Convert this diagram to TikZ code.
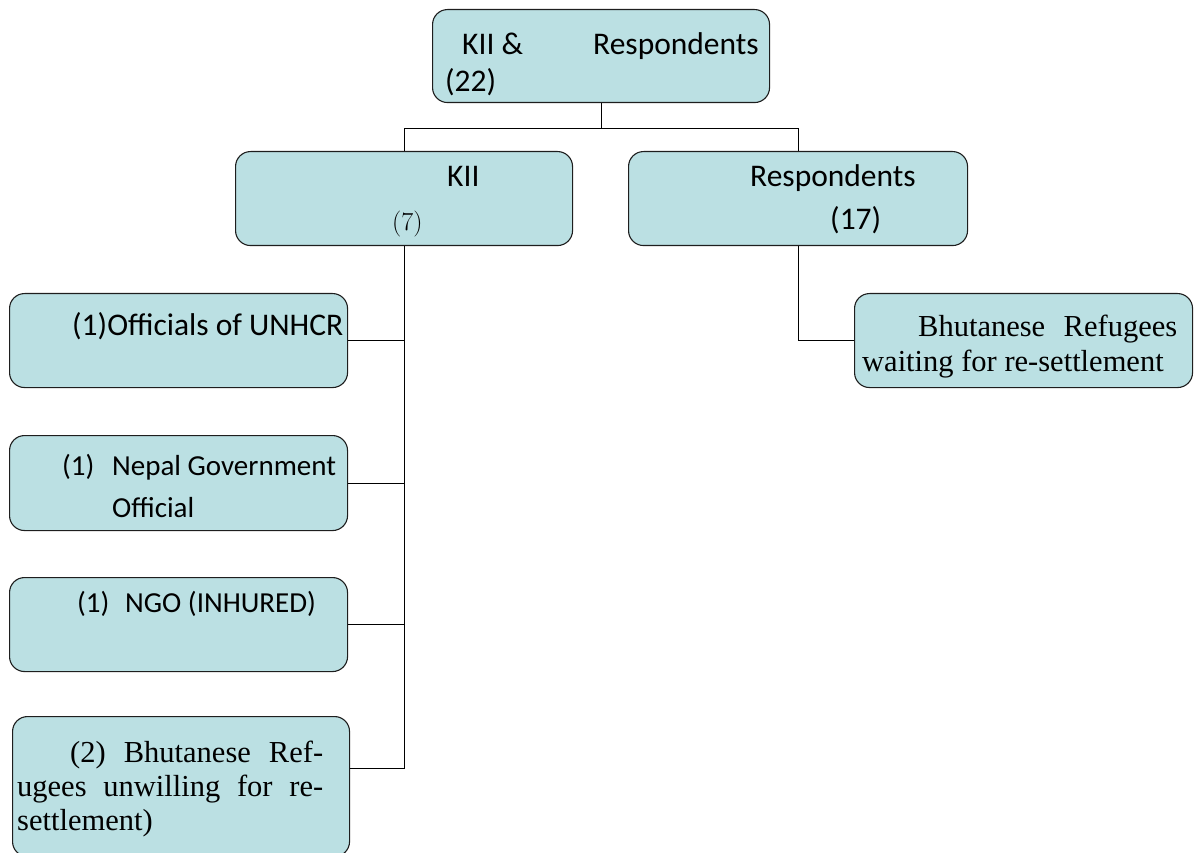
\documentclass[tikz,border=0pt]{standalone}
\usepackage{fontspec}
\newfontfamily\calfont{Carlito}
\newfontfamily\serfont{Liberation Serif}
\definecolor{boxfill}{RGB}{187,224,227}
\definecolor{boxline}{RGB}{30,30,30}
\tikzset{
  box/.style={draw=boxline, line width=1.1pt, fill=boxfill, rounded corners=15pt,
              anchor=north west, inner sep=0pt},
  conn/.style={draw=black, line width=0.9pt},
  stxt/.style={inner sep=0pt, anchor=base west, font=\calfont\fontsize{31.5}{36}\selectfont},
  sstxt/.style={inner sep=0pt, anchor=base west, font=\calfont\fontsize{29}{34}\selectfont},
  rtxt/.style={inner sep=0pt, anchor=base west, font=\serfont\fontsize{30.5}{36}\selectfont},
  ptxt/.style={inner sep=0pt, anchor=base west, font=\fontsize{26}{30}\selectfont}
}
\begin{document}
\begin{tikzpicture}[x=1pt,y=-1pt]
\useasboundingbox (0,0) rectangle (1195,853);
% boxes
\node[box, minimum width=337pt, minimum height=93pt] (top) at (432,9) {};
\node[box, minimum width=337pt, minimum height=94pt] (kii) at (235,151) {};
\node[box, minimum width=339pt, minimum height=94pt] (resp) at (628,151) {};
\node[box, minimum width=338pt, minimum height=94pt] (unhcr) at (9,293) {};
\node[box, minimum width=338pt, minimum height=95pt] (nepal) at (9,435) {};
\node[box, minimum width=338pt, minimum height=94pt] (ngo) at (9,577) {};
\node[box, minimum width=337pt, minimum height=140pt] (ref2) at (12,716) {};
\node[box, minimum width=338pt, minimum height=94pt] (ref) at (854,293) {};
% connectors
\coordinate (bus) at (0,128);
\draw[conn] (top.south) -- (top.south |- bus);
\draw[conn] (kii.north) -- (kii.north |- bus) -- (resp.north |- bus) -- (resp.north);
\draw[conn] (kii.south) |- (unhcr.east);
\draw[conn] (kii.south) |- (nepal.east);
\draw[conn] (kii.south) |- (ngo.east);
\draw[conn] (kii.south) |- ([yshift=18pt]ref2.east);
\draw[conn] (resp.south) |- (ref.west);
% texts
\node[stxt] (t1) at (462,55) {KII \&};
\node[stxt] (t2) at (593,55) {Respondents};
\node[stxt] (t3) at (445,92) {(22)};
\node[stxt] (k1) at (447,187) {KII};
\node[ptxt] (k2) at (392,231) {(7)};
\node[stxt] (r1) at (750,187) {Respondents};
\node[stxt] (r2) at (830,230) {(17)};
\node[stxt] (u1) at (72,335) {(1)Officials of UNHCR};
\node[sstxt] (n0) at (62,475) {(1)};
\node[sstxt] (n1) at (112,475) {Nepal Government};
\node[sstxt] (n2) at (112,517) {Official};
\node[sstxt] (g0) at (77,612) {(1)};
\node[sstxt] (g1) at (125,612) {NGO (INHURED)};
\node[rtxt] (b1) at (70,762) {\hbox to 253pt{(2)\hfill Bhutanese\hfill Ref-}};
\node[rtxt] (b2) at (17,796) {\hbox to 306pt{ugees\hfill unwilling\hfill for\hfill re-}};
\node[rtxt] (b3) at (17,830) {settlement)};
\node[rtxt] (w1) at (918,336) {\hbox to 259pt{Bhutanese\hfill Refugees}};
\node[rtxt] (w2) at (862,371) {waiting for re-settlement};
\end{tikzpicture}
\end{document}
